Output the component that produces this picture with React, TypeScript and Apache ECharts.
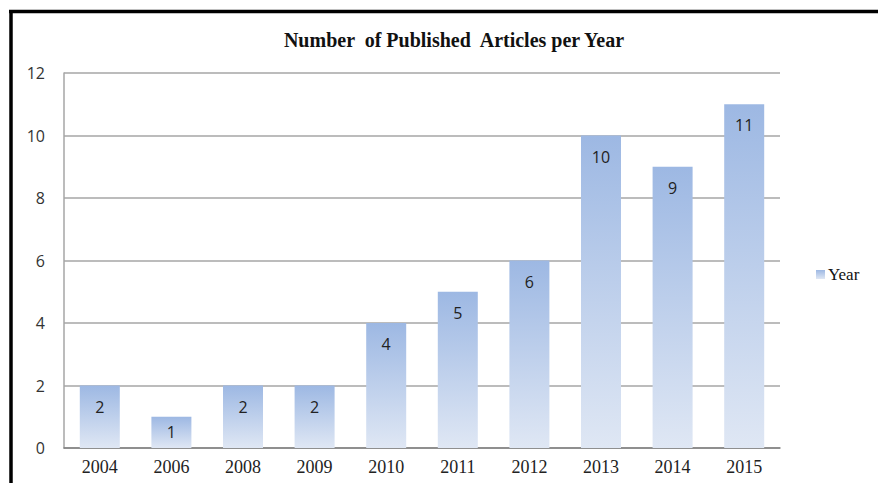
import React, { useEffect, useRef } from "react";
import * as echarts from "echarts";

const categories = ["2004", "2006", "2008", "2009", "2010", "2011", "2012", "2013", "2014", "2015"];
const values = [2, 1, 2, 2, 4, 5, 6, 10, 9, 11];
const seriesName = "Year";
const titleText = "Number  of Published  Articles per Year";

export default function App() {
  const ref = useRef<HTMLDivElement>(null);
  useEffect(() => {
    if (!ref.current) return;
    const chart = echarts.init(ref.current, null, { renderer: "svg" });
    const barData = values.map((v) =>
      v < 2 ? { value: v, label: { position: "inside" } } : v
    );
    chart.setOption({
      animation: false,
      backgroundColor: "#ffffff",
      title: {
        text: titleText,
        left: 449,
        textAlign: "center",
        top: 25,
        textStyle: {
          fontFamily: "Liberation Serif",
          fontWeight: "bold",
          fontSize: 20,
          color: "#111111",
        },
      },
      legend: {
        data: [seriesName],
        left: 811,
        top: 261,
        itemWidth: 9,
        itemHeight: 9,
        itemGap: 4,
        icon: "rect",
        textStyle: {
          fontFamily: "Liberation Serif",
          fontSize: 17,
          color: "#111111",
          padding: [0, 0, 0, -2],
        },
      },
      grid: { left: 64, right: 98, top: 73, bottom: 35, containLabel: false },
      xAxis: {
        type: "category",
        data: categories,
        axisLine: { lineStyle: { color: "#808080", width: 1.5 } },
        axisTick: { show: false },
        axisLabel: {
          fontFamily: "Liberation Serif",
          fontSize: 18,
          color: "#222222",
          margin: 10,
        },
      },
      yAxis: {
        type: "value",
        min: 0,
        max: 12,
        interval: 2,
        axisLine: { show: true, lineStyle: { color: "#a6a6a6", width: 1.5 } },
        axisTick: { show: false },
        splitLine: { lineStyle: { color: "#a6a6a6", width: 1.5 } },
        axisLabel: {
          fontFamily: "Open Sans",
          fontSize: 16,
          color: "#333333",
          margin: 19,
        },
      },
      series: [
        {
          name: seriesName,
          type: "bar",
          data: barData,
          barWidth: 40,
          itemStyle: {
            color: new echarts.graphic.LinearGradient(0, 0, 0, 1, [
              { offset: 0, color: "#9db8e3" },
              { offset: 1, color: "#dfe7f4" },
            ]),
          },
          label: {
            show: true,
            position: "insideTop",
            distance: 13,
            fontFamily: "Open Sans",
            fontSize: 16,
            color: "#222222",
          },
        },
      ],
      graphic: [
        {
          type: "line",
          shape: { x1: 9, y1: 11.5, x2: 878, y2: 11.5 },
          style: { stroke: "#000000", lineWidth: 3.5 },
        },
        {
          type: "line",
          shape: { x1: 11, y1: 10, x2: 11, y2: 483 },
          style: { stroke: "#000000", lineWidth: 3.5 },
        },
      ],
    });
    return () => chart.dispose();
  }, []);
  return (
    <div
      ref={ref}
      style={{ position: "fixed", left: 0, top: 0, width: 878, height: 483 }}
    />
  );
}
